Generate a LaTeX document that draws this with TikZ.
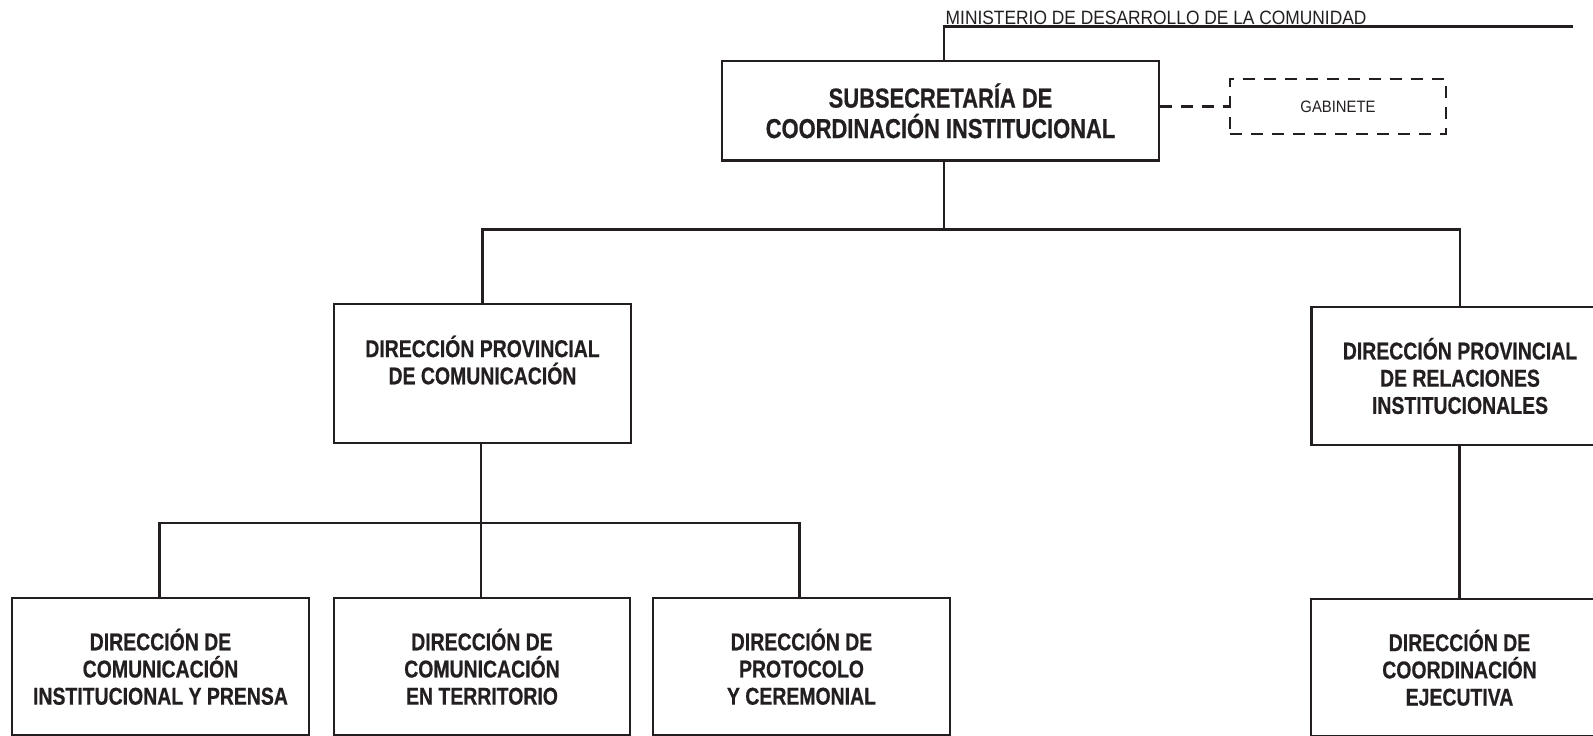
\documentclass[tikz,border=0pt]{standalone}
\usepackage{fontspec}
\setmainfont{Liberation Sans}
\newfontfamily\bfam{Liberation Sans}[FakeStretch=0.8,FakeBold=0.6]
\newfontfamily\rfam{Liberation Sans}[FakeStretch=0.9]
\definecolor{ink}{RGB}{35,31,32}
\begin{document}
\begin{tikzpicture}[x=1pt,y=-1pt,
  line width=2.4pt,
  box/.style={draw=ink, line width=2.5pt, inner sep=0pt, align=center,
    font=\bfam\bfseries\fontsize{24.3}{27.2}\selectfont, text=ink},
  bigbox/.style={box, font=\bfam\bfseries\fontsize{27.4}{30.5}\selectfont},
  dashbox/.style={draw=ink, line width=2.5pt, dash pattern=on 12pt off 9pt,
    inner sep=0pt, font=\rfam\fontsize{16.5}{18}\selectfont, text=ink},
  link/.style={draw=ink, line width=2.5pt},
  dlink/.style={link, dash pattern=on 12pt off 9pt}
]
\useasboundingbox (0,0) rectangle (1593,736);
\clip (0,0) rectangle (1593,736);

% top
\node (min) [anchor=base west, inner sep=0pt, font=\rfam\fontsize{19.3}{21}\selectfont, text=ink]
  at (944.5,24.8) {MINISTERIO DE DESARROLLO DE LA COMUNIDAD};
\coordinate (mincorner) at (944,26.5);
\coordinate (minend) at (1573,26.5);

\node (sub) [bigbox, minimum width=437pt, minimum height=99.5pt] at (940.5,110.8)
  {SUBSECRETARÍA DE\\COORDINACIÓN INSTITUCIONAL};
\node (gab) [dashbox, minimum width=216pt, minimum height=55pt] at (1338,106.5) {GABINETE};

\node (dpc) [box, minimum width=297pt, minimum height=139pt] at (482.5,373.5)
  {DIRECCIÓN PROVINCIAL\\DE COMUNICACIÓN\\\mbox{}};
\node (dpr) [box, minimum width=297pt, minimum height=138pt] at (1460,376)
  {DIRECCIÓN PROVINCIAL\\DE RELACIONES\\INSTITUCIONALES};

\node (b1) [box, minimum width=297pt, minimum height=137.5pt] at (160.5,666.8)
  {DIRECCIÓN DE\\COMUNICACIÓN\\INSTITUCIONAL Y PRENSA};
\node (b2) [box, minimum width=296pt, minimum height=137.5pt] at (482,666.8)
  {DIRECCIÓN DE\\COMUNICACIÓN\\EN TERRITORIO};
\node (b3) [box, minimum width=297pt, minimum height=137.5pt] at (801.5,666.8)
  {DIRECCIÓN DE\\PROTOCOLO\\Y CEREMONIAL};
\node (b4) [box, minimum width=297pt, minimum height=137pt] at (1459.5,667.7)
  {DIRECCIÓN DE\\COORDINACIÓN\\EJECUTIVA};

% junctions
\coordinate (spine) at (944,229.6);
\coordinate (spine2) at (481,523);

% connectors
\draw[link] (sub.north -| mincorner) -- (mincorner) -- (minend);
\draw[dlink] (sub.east |- gab.west) -- (gab.west);
\draw[link] (sub.south -| spine) -- (spine);
\draw[link] (dpc.north) -- (dpc.north |- spine) -- (dpr.north |- spine) -- (dpr.north);
\draw[link] (dpc.south -| spine2) -- (spine2);
\draw[link] (b1.north -| 159.5,0) -- (159.5,523) -- (799.6,523) -- (b3.north -| 799.6,0);
\draw[link] (spine2) -- (b2.north -| spine2);
\draw[link] (dpr.south -| b4.north) -- (b4.north);
\end{tikzpicture}
\end{document}
